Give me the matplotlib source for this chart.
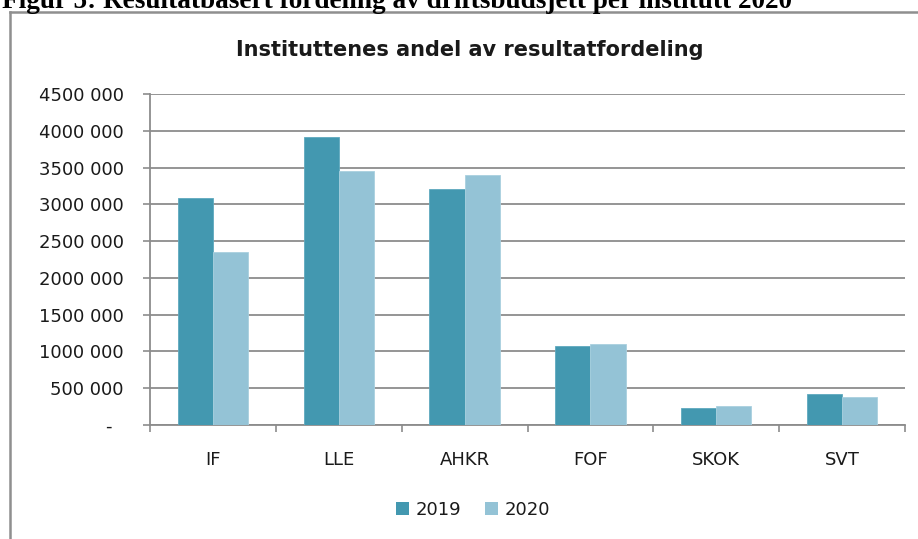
import numpy as np
import matplotlib
matplotlib.use('Agg')
import matplotlib.pyplot as plt
from matplotlib.lines import Line2D
from matplotlib.patches import Patch
from matplotlib.ticker import FixedLocator, FuncFormatter

# DATA
# ----
categories = ['IF', 'LLE', 'AHKR', 'FOF', 'SKOK', 'SVT']
series_names = ['2019', '2020']
values_2019 = [3082000, 3920000, 3204000, 1075000, 227000, 426000]
values_2020 = [2356000, 3449000, 3394000, 1100000, 254000, 376000]
y_ticks = [0, 500000, 1000000, 1500000, 2000000, 2500000, 3000000, 3500000, 4000000, 4500000]

caption = 'Figur 5: Resultatbasert fordeling av driftsbudsjett per institutt 2020'
title = 'Instituttenes andel av resultatfordeling'

# STYLE
# -----
W, H = 918, 539
DPI = 100
COLOR_2019 = '#4398B0'
COLOR_2020 = '#94C3D6'
GRID_COLOR = '#8c8c8c'
FRAME_COLOR = '#8f8f8f'
TEXT_COLOR = '#1a1a1a'
BAR_WIDTH = 0.28
LABEL_SIZE = 13


def px_x(x):
    return x / W


def px_y(y):
    # pixel rows are counted from the top
    return 1 - y / H


def fmt_value(v, pos=None):
    v = int(round(v))
    if v == 0:
        return '-  '
    return f"{v // 1000} {v % 1000:03d}"


fig = plt.figure(figsize=(W / DPI, H / DPI), dpi=DPI)

# Plot area: x 150..905, y 94..425 (pixels)
ax = fig.add_axes([px_x(150), px_y(425), px_x(905 - 150), (425 - 94) / H])

x = np.arange(len(categories))
ax.bar(x - BAR_WIDTH / 2, values_2019, BAR_WIDTH, color=COLOR_2019,
       edgecolor='#5fa9bf', linewidth=0.6, zorder=3)
ax.bar(x + BAR_WIDTH / 2, values_2020, BAR_WIDTH, color=COLOR_2020,
       edgecolor='#a9d0df', linewidth=0.6, zorder=3)

ax.set_xlim(-0.5, len(categories) - 0.5)
ax.set_ylim(0, y_ticks[-1])

# y axis
ax.yaxis.set_major_locator(FixedLocator(y_ticks))
ax.yaxis.set_major_formatter(FuncFormatter(fmt_value))
ax.tick_params(axis='y', length=5, width=1.2, color=GRID_COLOR, pad=14,
               labelsize=LABEL_SIZE, labelcolor=TEXT_COLOR)
ax.grid(axis='y', color=GRID_COLOR, linewidth=1.3, zorder=0)

# x axis: ticks between categories, labels under the groups
ax.xaxis.set_major_locator(FixedLocator(np.arange(-0.5, len(categories), 1.0)))
ax.xaxis.set_major_formatter(FuncFormatter(lambda v, p: ''))
ax.xaxis.set_minor_locator(FixedLocator(x))
ax.set_xticklabels(categories, minor=True)
ax.tick_params(axis='x', which='major', length=5, width=1.2, color=GRID_COLOR)
ax.tick_params(axis='x', which='minor', length=0, pad=19,
               labelsize=LABEL_SIZE, labelcolor=TEXT_COLOR)

for side in ['top', 'right']:
    ax.spines[side].set_visible(False)
for side in ['left', 'bottom']:
    ax.spines[side].set_color(GRID_COLOR)
    ax.spines[side].set_linewidth(1.3)

# Chart title
fig.text(px_x(470), px_y(56), title, ha='center', va='baseline',
         fontsize=15, fontweight='bold', color=TEXT_COLOR)

# Legend
handles = [Patch(facecolor=COLOR_2019), Patch(facecolor=COLOR_2020)]
fig.legend(handles, series_names, loc='center', bbox_to_anchor=(px_x(473), px_y(510)),
           ncol=2, frameon=False, fontsize=LABEL_SIZE, handlelength=0.75, handleheight=0.75,
           handletextpad=0.35, columnspacing=1.3, labelcolor=TEXT_COLOR)

# Chart frame (only left and top edges fall inside the picture)
fig.add_artist(Line2D([px_x(10), px_x(10)], [0, px_y(12)], color=FRAME_COLOR, linewidth=1.8))
fig.add_artist(Line2D([px_x(10), 1], [px_y(12), px_y(12)], color=FRAME_COLOR, linewidth=1.8))

# Document caption, cut off by the top edge as in the source page
fig.text(px_x(2), px_y(8), caption, ha='left', va='baseline', fontsize=19.6,
         fontweight='bold', color='black', family=['Liberation Serif', 'DejaVu Serif'])

fig.savefig('out.png', dpi=DPI)
